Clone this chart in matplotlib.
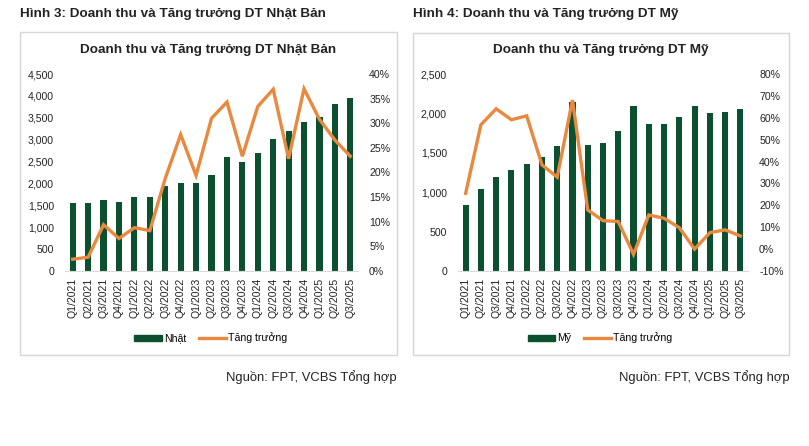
import matplotlib
matplotlib.use("Agg")
import matplotlib.pyplot as plt
from matplotlib.patches import Rectangle, Patch
from matplotlib.lines import Line2D
from matplotlib.ticker import FuncFormatter, MultipleLocator

plt.rcParams['font.family'] = ['Liberation Sans', 'DejaVu Sans']

quarters = ["Q1/2021", "Q2/2021", "Q3/2021", "Q4/2021", "Q1/2022", "Q2/2022", "Q3/2022",
            "Q4/2022", "Q1/2023", "Q2/2023", "Q3/2023", "Q4/2023", "Q1/2024", "Q2/2024",
            "Q3/2024", "Q4/2024", "Q1/2025", "Q2/2025", "Q3/2025"]

japan_rev = [1550, 1555, 1630, 1580, 1690, 1680, 1940, 2020, 2010, 2200, 2610, 2490,
             2690, 3010, 3200, 3410, 3520, 3810, 3950]
japan_growth = [2.4, 2.8, 9.4, 6.6, 8.8, 8.2, 18.8, 27.7, 19.4, 31.0, 34.3, 23.3,
                33.4, 36.9, 22.8, 37.0, 30.8, 26.6, 23.3]

us_rev = [840, 1040, 1190, 1280, 1360, 1445, 1580, 2140, 1600, 1630, 1780, 2100,
          1860, 1860, 1950, 2090, 2000, 2020, 2060]
us_growth = [25.5, 56.8, 64.1, 59.1, 60.9, 38.5, 32.9, 68.1, 17.9, 13.0, 12.6, -2.4,
             15.6, 14.1, 9.8, 0.0, 7.5, 8.8, 6.0]

GREEN = "#0B5130"
ORANGE = "#E8893F"
TXT = "#222222"
TICK_FS = 7.6

W, H = 809, 446
fig = plt.figure(figsize=(W / 100, H / 100), dpi=100)


def fx(px):
    return px / W


def fy(py):
    return 1 - py / H


def panel(box, ax_rect, fig_title, chart_title, rev, growth, bar_label,
          lmax, lstep, rmin, rmax, rstep, legend_cx):
    bx0, by0, bx1, by1 = box
    fig.patches.append(Rectangle((fx(bx0), fy(by1)), fx(bx1 - bx0), (by1 - by0) / H,
                                 transform=fig.transFigure, fill=False,
                                 edgecolor="#D6D6D6", lw=1.0))
    fig.text(fx(bx0), fy(14), fig_title, fontsize=9.7, fontweight="bold",
             color=TXT, va="center", ha="left")
    fig.text(fx((bx0 + bx1) / 2), fy(50), chart_title, fontsize=9.7,
             fontweight="bold", color=TXT, va="center", ha="center")

    x0, y0, x1, y1 = ax_rect
    ax = fig.add_axes([fx(x0), fy(y1), fx(x1 - x0), (y1 - y0) / H])
    x = list(range(len(quarters)))
    ax.bar(x, rev, width=0.4, color=GREEN, zorder=2)
    ax.set_xlim(-0.5, len(quarters) - 0.5)
    ax.set_ylim(0, lmax)
    ax.yaxis.set_major_locator(MultipleLocator(lstep))
    ax.yaxis.set_major_formatter(FuncFormatter(lambda v, p: f"{v:,.0f}"))
    ax.set_xticks(x)
    ax.set_xticklabels(quarters, rotation=90, fontsize=TICK_FS, color=TXT)
    for s in ["top", "right", "left"]:
        ax.spines[s].set_visible(False)
    ax.spines["bottom"].set_color("#D9D9D9")
    ax.tick_params(axis="both", length=0, labelsize=TICK_FS, labelcolor=TXT)
    ax.tick_params(axis="x", pad=5)
    ax.tick_params(axis="y", pad=8)

    ax2 = ax.twinx()
    ax2.plot(x, growth, color=ORANGE, lw=2.4, zorder=3, solid_joinstyle="miter")
    ax2.set_ylim(rmin, rmax)
    ax2.yaxis.set_major_locator(MultipleLocator(rstep))
    ax2.yaxis.set_major_formatter(FuncFormatter(lambda v, p: f"{v:.0f}%"))
    for s in ["top", "right", "left", "bottom"]:
        ax2.spines[s].set_visible(False)
    ax2.tick_params(axis="y", length=0, labelsize=TICK_FS, labelcolor=TXT, pad=8)

    handles = [Patch(facecolor=GREEN, edgecolor=GREEN),
               Line2D([0], [0], color=ORANGE, lw=2.4)]
    fig.legend(handles, [bar_label, "Tăng trưởng"], loc="center",
               bbox_to_anchor=(fx(legend_cx), fy(338)), ncol=2, frameon=False,
               fontsize=TICK_FS, handlelength=2.6, handleheight=0.5,
               columnspacing=1.2, handletextpad=0.2)
    return ax


panel((20, 32, 397, 355), (65, 74, 358, 271),
      "Hình 3: Doanh thu và Tăng trưởng DT Nhật Bản",
      "Doanh thu và Tăng trưởng DT Nhật Bản",
      japan_rev, japan_growth, "Nhật", 4500, 500, 0, 40, 5, 211)

panel((413, 33, 789, 355), (458, 74, 748, 271),
      "Hình 4: Doanh thu và Tăng trưởng DT Mỹ",
      "Doanh thu và Tăng trưởng DT Mỹ",
      us_rev, us_growth, "Mỹ", 2500, 500, -10, 80, 10, 600)

fig.text(fx(397), fy(377), "Nguồn: FPT, VCBS Tổng hợp", fontsize=9.4,
         color=TXT, ha="right", va="center")
fig.text(fx(790), fy(377), "Nguồn: FPT, VCBS Tổng hợp", fontsize=9.4,
         color=TXT, ha="right", va="center")

fig.savefig("out.png", dpi=100, facecolor="white")
